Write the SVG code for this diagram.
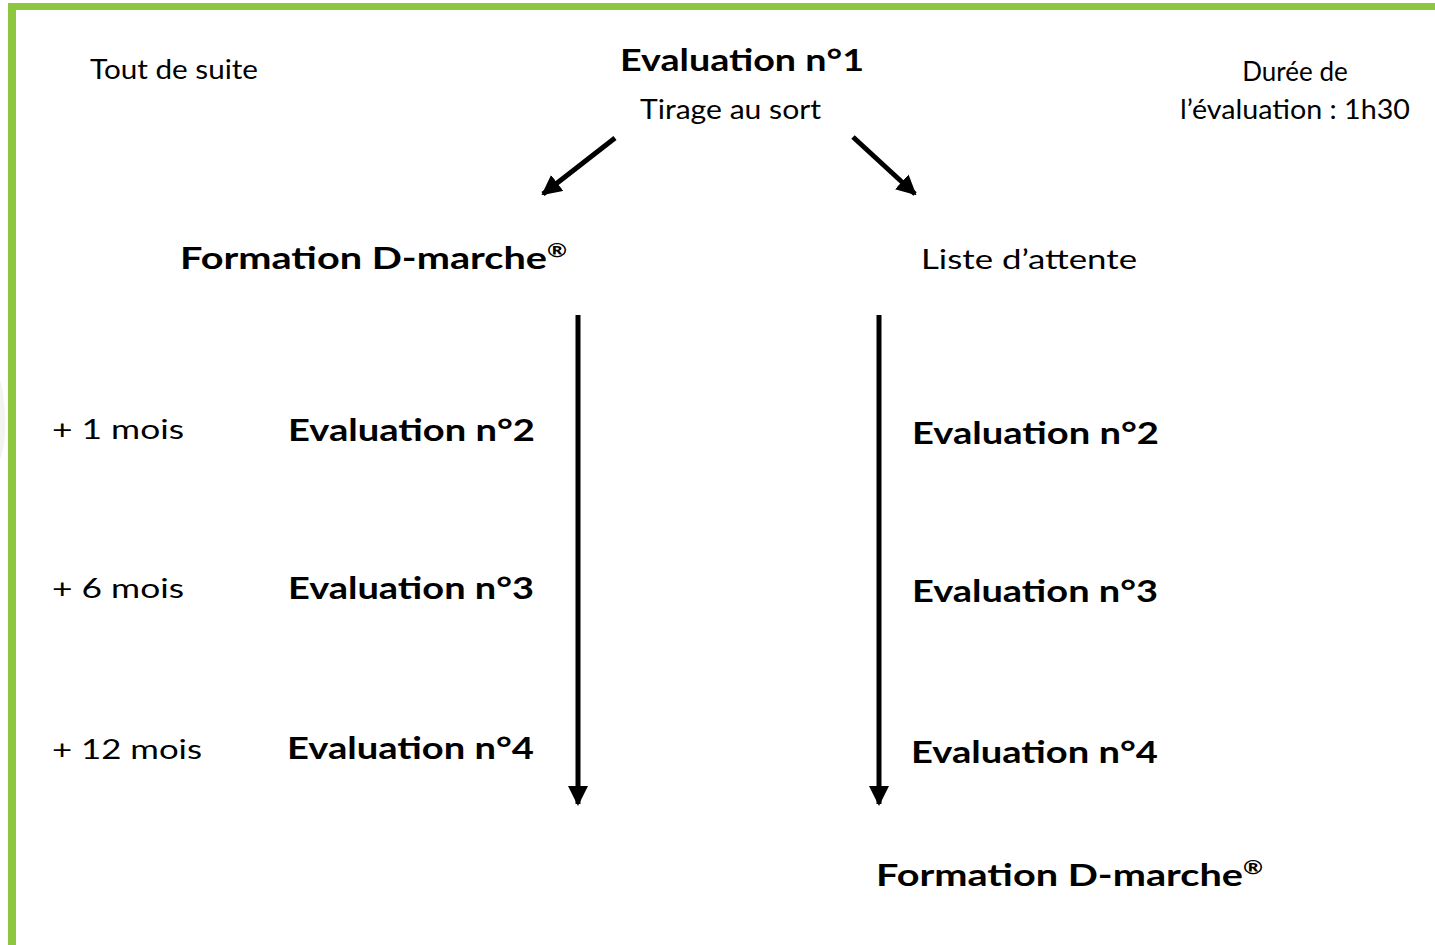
<svg xmlns="http://www.w3.org/2000/svg" width="1435" height="945" viewBox="0 0 1435 945">
<defs>
<style>
text{font-family:Lato,"Open Sans","Liberation Sans",sans-serif;fill:#000}
.n{font-size:26px}
.b{font-size:31px;font-weight:bold}
.c{stroke:#000;stroke-width:5;fill:none}
</style>
<marker id="ah" viewBox="0 0 10 10" refX="9" refY="5" markerWidth="4" markerHeight="4" markerUnits="strokeWidth" orient="auto">
<path d="M0,0 L10,5 L0,10 z" fill="#000"/>
</marker>
</defs>
<rect width="1435" height="945" fill="#fff"/>
<path d="M0,380 C6,400 8,440 0,460 Z" fill="#f3f4ef"/>
<g id="frame">
<rect x="8" y="3" width="1427" height="7" fill="#8dc63f"/>
<rect x="8" y="3" width="8" height="942" fill="#8dc63f"/>
</g>
<g id="connectors">
<line class="c" x1="615" y1="138" x2="543" y2="194" marker-end="url(#ah)"/>
<line class="c" x1="853" y1="137" x2="915" y2="194" marker-end="url(#ah)"/>
<line class="c" x1="578" y1="315" x2="578" y2="804" marker-end="url(#ah)"/>
<line class="c" x1="879" y1="315" x2="879" y2="804" marker-end="url(#ah)"/>
</g>
<g id="tout"><text class="n" x="90" y="79" textLength="168" lengthAdjust="spacingAndGlyphs">Tout de suite</text></g>
<g id="eval1">
<text class="b" x="620" y="71" textLength="244" lengthAdjust="spacingAndGlyphs">Evaluation n°1</text>
<text class="n" x="640" y="119" textLength="181" lengthAdjust="spacingAndGlyphs">Tirage au sort</text>
</g>
<g id="duree">
<text class="n" x="1295" y="81" text-anchor="middle">Durée de</text>
<text class="n" x="1180" y="119" textLength="230" lengthAdjust="spacingAndGlyphs">l’évaluation : 1h30</text>
</g>
<g id="formation-left"><text class="b" x="180" y="269" textLength="387" lengthAdjust="spacingAndGlyphs">Formation D-marche<tspan font-size="19" dy="-12">®</tspan></text></g>
<g id="liste"><text class="n" x="921" y="269" textLength="216" lengthAdjust="spacingAndGlyphs">Liste d’attente</text></g>
<g id="t1"><text class="n" x="52" y="439" textLength="132" lengthAdjust="spacingAndGlyphs">+ 1 mois</text></g>
<g id="t6"><text class="n" x="52" y="598" textLength="132" lengthAdjust="spacingAndGlyphs">+ 6 mois</text></g>
<g id="t12"><text class="n" x="52" y="759" textLength="150" lengthAdjust="spacingAndGlyphs">+ 12 mois</text></g>
<g id="l-eval2"><text class="b" x="288" y="441" textLength="247" lengthAdjust="spacingAndGlyphs">Evaluation n°2</text></g>
<g id="l-eval3"><text class="b" x="288" y="599" textLength="246" lengthAdjust="spacingAndGlyphs">Evaluation n°3</text></g>
<g id="l-eval4"><text class="b" x="287" y="759" textLength="247" lengthAdjust="spacingAndGlyphs">Evaluation n°4</text></g>
<g id="r-eval2"><text class="b" x="912" y="444" textLength="247" lengthAdjust="spacingAndGlyphs">Evaluation n°2</text></g>
<g id="r-eval3"><text class="b" x="912" y="602" textLength="246" lengthAdjust="spacingAndGlyphs">Evaluation n°3</text></g>
<g id="r-eval4"><text class="b" x="911" y="763" textLength="247" lengthAdjust="spacingAndGlyphs">Evaluation n°4</text></g>
<g id="formation-right"><text class="b" x="876" y="886" textLength="387" lengthAdjust="spacingAndGlyphs">Formation D-marche<tspan font-size="19" dy="-12">®</tspan></text></g>
</svg>
